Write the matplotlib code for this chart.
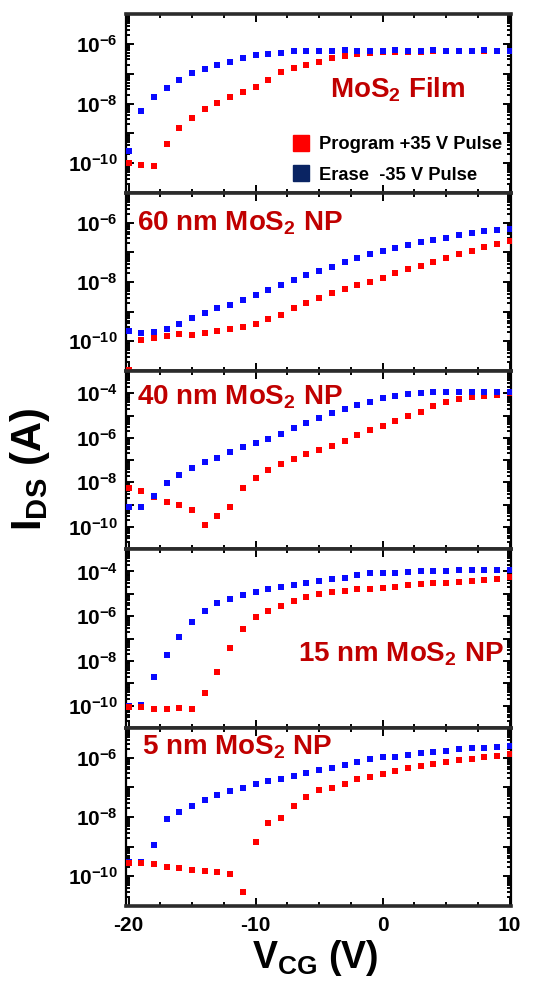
import numpy as np
import matplotlib
matplotlib.use('Agg')
import matplotlib.pyplot as plt
from matplotlib.lines import Line2D
from matplotlib.ticker import FixedLocator, FuncFormatter, MultipleLocator, NullFormatter

plt.rcParams['font.family'] = ['Liberation Sans', 'DejaVu Sans']
plt.rcParams['font.weight'] = 'bold'
plt.rcParams['mathtext.fontset'] = 'custom'
plt.rcParams['mathtext.rm'] = 'Liberation Sans:bold'
plt.rcParams['mathtext.bf'] = 'Liberation Sans:bold'
plt.rcParams['mathtext.it'] = 'Liberation Sans:bold'
plt.rcParams['mathtext.sf'] = 'Liberation Sans:bold'
plt.rcParams['mathtext.default'] = 'bf'
plt.rcParams['axes.unicode_minus'] = False

# gate sweep (V)
vcg = np.arange(-20, 11, 1)

# log10(I_DS / A)
film_program = [-9.98, -10.07, -10.08, -9.37, -8.83, -8.48, -8.19, -7.98, -7.79, -7.63,
                -7.46, -7.22, -6.96, -6.82, -6.72, -6.61, -6.48, -6.41, -6.34, -6.30,
                -6.28, -6.27, -6.26, -6.26, -6.25, -6.25, -6.25, -6.25, -6.24, -6.24, -6.24]
film_erase = [-9.60, -8.26, -7.77, -7.47, -7.21, -6.97, -6.83, -6.71, -6.60, -6.48,
              -6.39, -6.34, -6.30, -6.24, -6.23, -6.23, -6.23, -6.22, -6.23, -6.23,
              -6.23, -6.22, -6.23, -6.23, -6.22, -6.23, -6.23, -6.23, -6.22, -6.23, -6.23]

np60_program = [-10.95, -9.96, -9.89, -9.81, -9.75, -9.77, -9.73, -9.66, -9.60, -9.53,
                -9.41, -9.25, -9.10, -8.89, -8.72, -8.55, -8.38, -8.24, -8.11, -7.99,
                -7.85, -7.69, -7.56, -7.45, -7.31, -7.18, -7.06, -6.95, -6.81, -6.72, -6.61]
np60_erase = [-9.64, -9.72, -9.68, -9.60, -9.43, -9.21, -9.05, -8.89, -8.76, -8.60,
              -8.44, -8.27, -8.10, -7.92, -7.76, -7.63, -7.49, -7.33, -7.20, -7.06,
              -6.95, -6.85, -6.75, -6.64, -6.57, -6.50, -6.41, -6.35, -6.29, -6.26, -6.20]

np40_program = [-8.24, -8.39, -8.65, -8.87, -9.02, -9.23, -9.92, -9.52, -9.13, -8.24,
                -7.79, -7.43, -7.17, -6.96, -6.74, -6.54, -6.36, -6.15, -5.88, -5.67,
                -5.49, -5.25, -5.04, -4.83, -4.56, -4.38, -4.24, -4.15, -4.11, -4.07, -4.00]
np40_erase = [-9.13, -9.10, -8.60, -8.05, -7.67, -7.37, -7.10, -6.90, -6.63, -6.42,
              -6.25, -6.06, -5.82, -5.55, -5.32, -5.10, -4.90, -4.69, -4.53, -4.41,
              -4.23, -4.14, -4.05, -3.99, -3.96, -3.94, -3.93, -3.93, -3.93, -3.93, -3.93]

np15_program = [-10.07, -10.07, -10.13, -10.13, -10.10, -10.13, -9.43, -8.50, -7.41, -6.59,
                -6.06, -5.78, -5.56, -5.32, -5.14, -5.02, -4.94, -4.88, -4.81, -4.78,
                -4.73, -4.69, -4.63, -4.58, -4.54, -4.51, -4.47, -4.42, -4.39, -4.36, -4.27]
np15_erase = [-10.00, -9.95, -8.70, -7.75, -6.93, -6.26, -5.78, -5.41, -5.23, -5.06,
              -4.93, -4.81, -4.72, -4.63, -4.51, -4.42, -4.36, -4.29, -4.17, -4.09,
              -4.06, -4.06, -4.02, -4.00, -3.99, -3.97, -3.94, -3.94, -3.94, -3.94, -3.94]

np5_program = [-9.56, -9.56, -9.60, -9.70, -9.72, -9.78, -9.81, -9.87, -9.93, -10.53,
               -8.83, -8.19, -8.03, -7.62, -7.31, -7.09, -7.03, -6.90, -6.73, -6.64,
               -6.56, -6.44, -6.36, -6.28, -6.22, -6.13, -6.08, -6.04, -5.99, -5.93, -5.88]
np5_erase = [-9.53, -9.50, -8.94, -8.07, -7.84, -7.62, -7.42, -7.27, -7.12, -7.01,
             -6.90, -6.78, -6.71, -6.61, -6.53, -6.41, -6.34, -6.26, -6.13, -6.05,
             -5.99, -5.97, -5.92, -5.85, -5.81, -5.76, -5.72, -5.68, -5.66, -5.63, -5.60]

labels = ['MoS$_2$ Film', '60 nm MoS$_2$ NP', '40 nm MoS$_2$ NP',
          '15 nm MoS$_2$ NP', '5 nm MoS$_2$ NP']

RED = '#FF0000'
BLUE = '#0A0AFF'
TXT_RED = '#C00000'

panels = [
    dict(prog=film_program, erase=film_erase, ylim=(1e-11, 1e-5), top=14, bot=193,
         txt=(0.53, 0.575, 'left'), red_on_top=False),
    dict(prog=np60_program, erase=np60_erase, ylim=(1e-11, 1e-5), top=193, bot=371,
         txt=(0.029, 0.83, 'left'), red_on_top=False),
    dict(prog=np40_program, erase=np40_erase, ylim=(1e-11, 1e-3), top=371, bot=549,
         txt=(0.029, 0.85, 'left'), red_on_top=False),
    dict(prog=np15_program, erase=np15_erase, ylim=(1e-11, 1e-3), top=549, bot=728,
         txt=(0.98, 0.41, 'right'), red_on_top=True),
    dict(prog=np5_program, erase=np5_erase, ylim=(1e-11, 1e-5), top=728, bot=906,
         txt=(0.042, 0.89, 'left'), red_on_top=True),
]

W, H = 541, 985
fig = plt.figure(figsize=(W / 100, H / 100), dpi=100)


def even_decade(v, pos):
    e = int(round(np.log10(v)))
    if e % 2 == 0:
        return r'$10^{%d}$' % e
    return ''


axes = []
for i, p in enumerate(panels):
    ax = fig.add_axes([126 / W, 1 - p['bot'] / H, 385 / W, (p['bot'] - p['top']) / H])
    axes.append(ax)
    ax.set_yscale('log')
    ax.set_xlim(-20.2, 10.1)
    ax.set_ylim(*p['ylim'])

    z_prog = 4 if p['red_on_top'] else 3
    z_erase = 3 if p['red_on_top'] else 4
    ax.plot(vcg, 10.0 ** np.array(p['erase']), ls='none', marker='s', ms=4.8,
            mew=0, color=BLUE, zorder=z_erase)
    ax.plot(vcg, 10.0 ** np.array(p['prog']), ls='none', marker='s', ms=4.8,
            mew=0, color=RED, zorder=z_prog)

    lo, hi = [int(round(np.log10(v))) for v in p['ylim']]
    ax.yaxis.set_major_locator(FixedLocator([10.0 ** e for e in range(lo, hi + 1)]))
    ax.yaxis.set_minor_locator(FixedLocator([m * 10.0 ** e for e in range(lo, hi)
                                             for m in range(2, 10)]))
    ax.yaxis.set_major_formatter(FuncFormatter(even_decade))
    ax.yaxis.set_minor_formatter(NullFormatter())

    ax.xaxis.set_major_locator(MultipleLocator(10))
    ax.xaxis.set_minor_locator(MultipleLocator(2.5))

    ax.tick_params(which='both', direction='in', top=True, right=True, width=1.4)
    ax.tick_params(which='major', length=6)
    ax.tick_params(which='minor', length=3)
    ax.tick_params(axis='y', which='major', labelsize=15, pad=6)
    ax.tick_params(axis='x', which='major', labelsize=15, pad=7)
    if i < len(panels) - 1:
        ax.tick_params(axis='x', labelbottom=False)

    for side in ['left', 'right']:
        ax.spines[side].set_linewidth(1.6)
    for side in ['top', 'bottom']:
        ax.spines[side].set_linewidth(2.6)
        ax.spines[side].set_color('#2b2b2b')

    tx, ty, ha = p['txt']
    ax.text(tx, ty, labels[i], transform=ax.transAxes, ha=ha, va='center',
            fontsize=20, fontweight='bold', color=TXT_RED, zorder=6)

# legend in the film panel
handles = [Line2D([], [], ls='none', marker='s', ms=11, color=RED,
                  label='Program +35 V Pulse'),
           Line2D([], [], ls='none', marker='s', ms=11, color='#0A2463',
                  label='Erase  -35 V Pulse')]
axes[0].legend(handles=handles, loc='lower right', bbox_to_anchor=(1.0, 0.0),
               frameon=False, prop={'size': 13.2, 'weight': 'bold'},
               handlelength=0.8, handletextpad=0.55, labelspacing=0.75,
               borderaxespad=0.1)

fig.text(30 / W, 1 - 470 / H, 'I$_{DS}$ (A)', rotation=90, ha='center', va='center',
         fontsize=30, fontweight='bold')
fig.text(315 / W, 1 - 958 / H, 'V$_{CG}$ (V)', ha='center', va='center',
         fontsize=27, fontweight='bold')

fig.savefig('out.png', dpi=100, facecolor='white')
